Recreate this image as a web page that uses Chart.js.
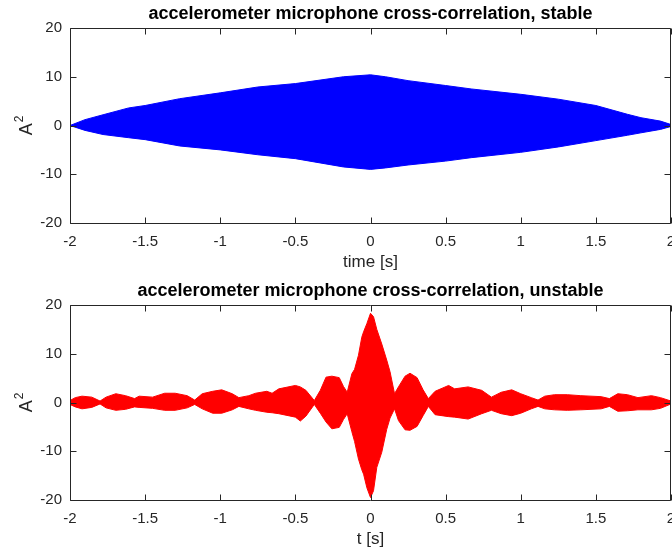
<!DOCTYPE html>
<html>
<head>
<meta charset="utf-8">
<script src="https://cdn.jsdelivr.net/npm/chart.js@4/dist/chart.umd.min.js"></script>
<style>
  html, body { margin: 0; padding: 0; background: #fff; }
  #wrap { position: relative; width: 672px; height: 556px; background: #fff; }
  canvas { position: absolute; left: 0; }
</style>
</head>
<body>
<div id="wrap">
  <canvas id="stable" width="672" height="278" style="top:0"></canvas>
  <canvas id="unstable" width="672" height="278" style="top:277px"></canvas>
</div>
<script>
// Axis ticks shared by both panels
const xTicks = [-2, -1.5, -1, -0.5, 0, 0.5, 1, 1.5, 2];
const xTickLabels = ['-2', '-1.5', '-1', '-0.5', '0', '0.5', '1', '1.5', '2'];
const yTicks = [-20, -10, 0, 10, 20];
const yTickLabels = ['-20', '-10', '0', '10', '20'];

// Stable run: envelope of the cross-correlation (upper / lower extremes)
const stableTime  = [-2, -1.9, -1.78, -1.61, -1.5, -1.27, -1, -0.75, -0.5, -0.18, 0, 0.1, 0.25, 0.5, 0.67, 1, 1.25, 1.5, 1.71, 1.8, 1.93, 2];
const stableUpper = [0, 1.2, 2.2, 3.6, 4.1, 5.5, 6.7, 7.9, 8.6, 10.0, 10.4, 10.0, 9.2, 8.2, 7.5, 6.4, 5.4, 4.1, 2.3, 1.6, 0.9, 0.2];
const stableLower = [0, -1.0, -1.85, -2.5, -2.9, -4.2, -5.0, -6.0, -6.8, -8.5, -9.0, -8.7, -8.1, -7.3, -6.6, -5.5, -4.4, -3.1, -2.0, -1.5, -0.8, -0.2];

// Unstable run: envelope of the cross-correlation (upper / lower extremes)
const unstableTime = [
  -2, -1.965, -1.92, -1.855, -1.8, -1.76, -1.695, -1.63, -1.57, -1.54, -1.45, -1.37, -1.3, -1.22, -1.17,
  -1.12, -1.05, -0.99, -0.92, -0.876, -0.81, -0.765, -0.69, -0.655, -0.61, -0.5, -0.467, -0.43, -0.374,
  -0.334, -0.296, -0.257, -0.208, -0.18, -0.155, -0.124, -0.106, -0.08, -0.058, -0.046, -0.024, 0,
  0.02, 0.042, 0.075, 0.108, 0.13, 0.16, 0.186, 0.23, 0.263, 0.31, 0.35, 0.385, 0.43, 0.52, 0.56, 0.65,
  0.74, 0.805, 0.87, 0.94, 1, 1.07, 1.115, 1.16, 1.225, 1.31, 1.4, 1.535, 1.59, 1.646, 1.71, 1.78, 1.87, 1.93, 2
];
const unstableUpper = [
  0.4, 1.0, 1.3, 1.1, 0.3, 1.1, 1.8, 1.4, 0.8, 1.3, 1.1, 1.9, 1.9, 1.4, 0.5,
  1.8, 2.3, 2.6, 1.8, 1.0, 1.4, 1.9, 2.3, 1.9, 2.8, 3.5, 3.2, 2.5, 0.4,
  2.5, 5.2, 5.4, 5.1, 3.3, 2.1, 5.9, 6.8, 9.7, 13.4, 14.5, 16.2, 18.3,
  17.6, 15.0, 12.0, 8.7, 6.3, 1.8, 3.2, 5.4, 6.0, 5.1, 2.6, 0.8, 2.3, 3.5, 2.8, 3.2,
  2.5, 1.1, 2.1, 2.6, 1.8, 1.0, 0.5, 1.3, 1.6, 1.6, 1.4, 1.2, 0.8, 1.8, 1.6, 1.0, 1.4, 1.0, 0.3
];
const unstableLower = [
  -0.4, -0.9, -1.3, -1.0, -0.3, -1.1, -1.6, -1.4, -0.9, -1.0, -1.2, -1.6, -1.6, -1.1, -0.4,
  -1.3, -2.2, -2.2, -1.5, -0.8, -1.3, -1.6, -2.0, -2.1, -2.3, -3.0, -3.8, -2.8, -0.4,
  -2.2, -4.0, -5.4, -5.1, -3.5, -2.3, -6.0, -8.0, -11.6, -13.8, -14.7, -17.5, -19.5,
  -18.1, -13.3, -10.2, -5.5, -3.2, -1.3, -3.7, -5.6, -5.7, -4.9, -2.7, -0.8, -2.5, -2.9, -3.0, -3.4,
  -2.3, -1.6, -2.3, -2.7, -2.2, -1.3, -0.8, -1.3, -1.5, -1.6, -1.5, -1.3, -0.8, -1.8, -1.7, -1.5, -1.5, -1.2, -0.3
];

const FONT = '"Liberation Sans", Arial, Helvetica, sans-serif';
const AXIS_COLOR = '#262626';

// Boxed axes with inward ticks, panel title and the A² label
const framePlugin = {
  id: 'frame',
  afterDraw(chart, args, opts) {
    const { ctx, chartArea: a, scales } = chart;
    const L = Math.round(a.left) + 0.5, R = Math.round(a.right) - 0.5;
    const T = Math.round(a.top) + 0.5, B = Math.round(a.bottom) + 0.5;
    const tick = 6;
    ctx.save();
    ctx.strokeStyle = AXIS_COLOR;
    ctx.lineWidth = 1;
    ctx.beginPath();
    ctx.rect(L, T, R - L, B - T);
    xTicks.forEach(v => {
      const px = Math.round(scales.x.getPixelForValue(v)) + 0.5;
      ctx.moveTo(px, B); ctx.lineTo(px, B - tick);
      ctx.moveTo(px, T); ctx.lineTo(px, T + tick);
    });
    yTicks.forEach(v => {
      const py = Math.round(scales.y.getPixelForValue(v)) + 0.5;
      ctx.moveTo(L, py); ctx.lineTo(L + tick, py);
      ctx.moveTo(R, py); ctx.lineTo(R - tick, py);
    });
    ctx.stroke();

    // panel title
    ctx.fillStyle = '#000';
    ctx.font = 'bold 18px ' + FONT;
    ctx.textAlign = 'center';
    ctx.textBaseline = 'alphabetic';
    ctx.fillText(opts.title, (a.left + a.right) / 2, 19);

    // y label: A with superscript 2, rotated
    const cy = (a.top + a.bottom) / 2;
    ctx.fillStyle = AXIS_COLOR;
    ctx.translate(32, cy);
    ctx.rotate(-Math.PI / 2);
    ctx.textAlign = 'left';
    ctx.font = '18px ' + FONT;
    const wA = ctx.measureText('A').width;
    ctx.font = '12px ' + FONT;
    const w2 = ctx.measureText('2').width;
    const x0 = -(wA + w2 + 1) / 2;
    ctx.font = '18px ' + FONT;
    ctx.fillText('A', x0, 0);
    ctx.font = '12px ' + FONT;
    ctx.fillText('2', x0 + wA + 1, -9);
    ctx.restore();
  }
};

function makeChart(id, title, xLabel, time, upper, lower, color) {
  const toPoints = arr => time.map((t, i) => ({ x: t, y: arr[i] }));
  return new Chart(document.getElementById(id), {
    type: 'line',
    data: {
      datasets: [
        { data: toPoints(upper), borderColor: color, backgroundColor: color, borderWidth: 1,
          pointRadius: 0, tension: 0, fill: '+1' },
        { data: toPoints(lower), borderColor: color, backgroundColor: color, borderWidth: 1,
          pointRadius: 0, tension: 0, fill: false }
      ]
    },
    options: {
      responsive: false,
      animation: false,
      devicePixelRatio: 1,
      events: [],
      layout: { padding: { top: 28, right: 1, bottom: 0, left: 0 } },
      plugins: {
        legend: { display: false },
        tooltip: { enabled: false },
        frame: { title: title }
      },
      scales: {
        x: {
          type: 'linear', min: -2, max: 2,
          grid: { display: false, drawTicks: false },
          border: { display: false },
          afterBuildTicks: s => { s.ticks = xTicks.map(v => ({ value: v })); },
          afterFit: s => { s.height = 55; s.paddingLeft = 0; s.paddingRight = 0; },
          ticks: {
            autoSkip: false, maxRotation: 0, padding: 10, color: AXIS_COLOR,
            font: { family: FONT, size: 15 },
            callback: (v) => xTickLabels[xTicks.indexOf(v)]
          },
          title: { display: true, text: xLabel, color: AXIS_COLOR,
                   font: { family: FONT, size: 17 }, padding: { top: 0, bottom: 5 } }
        },
        y: {
          type: 'linear', min: -20, max: 20,
          grid: { display: false, drawTicks: false },
          border: { display: false },
          afterBuildTicks: s => { s.ticks = yTicks.map(v => ({ value: v })); },
          afterFit: s => { s.width = 70; s.paddingTop = 0; s.paddingBottom = 0; },
          ticks: {
            padding: 8, color: AXIS_COLOR,
            font: { family: FONT, size: 15 },
            callback: (v) => yTickLabels[yTicks.indexOf(v)]
          }
        }
      }
    },
    plugins: [framePlugin]
  });
}

makeChart('stable', 'accelerometer microphone cross-correlation, stable', 'time [s]',
          stableTime, stableUpper, stableLower, '#0000ff');
makeChart('unstable', 'accelerometer microphone cross-correlation, unstable', 't [s]',
          unstableTime, unstableUpper, unstableLower, '#ff0000');
</script>
</body>
</html>
